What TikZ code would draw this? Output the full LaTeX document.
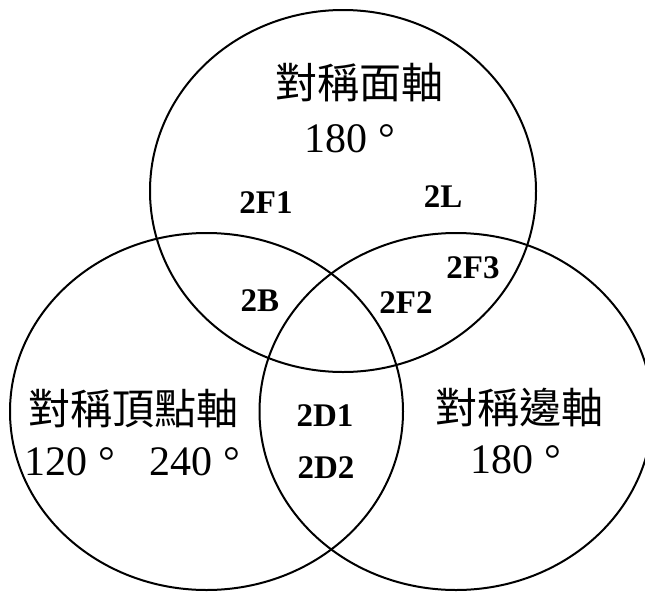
\documentclass[tikz,border=0pt]{standalone}
\usepackage{fontspec}
\setmainfont{Liberation Serif}
\newfontfamily\cjk{Noto Sans CJK TC}
\usetikzlibrary{shapes.geometric}
\tikzset{
  setring/.style={ellipse, draw, line width=2pt, inner sep=0pt, fill=none},
  cjklabel/.style={inner sep=0pt, font=\cjk\fontsize{42}{48}\selectfont},
  numlabel/.style={inner sep=0pt, font=\fontsize{42}{48}\selectfont},
  regionlabel/.style={inner sep=0pt, font=\bfseries\fontsize{33}{38}\selectfont},
}
\begin{document}
\begin{tikzpicture}[x=1pt,y=-1pt]
\useasboundingbox (0,0) rectangle (645,592);
\clip (0,0) rectangle (645,592);
\node[setring, minimum width=386pt, minimum height=362pt] (face) at (343,191) {};
\node[setring, minimum width=393pt, minimum height=357pt] (vertex) at (206.5,411.5) {};
\node[setring, minimum width=393pt, minimum height=357pt] (edge) at (456,411.5) {};

\node[cjklabel] (faceT) at (359,83) {對稱面軸};
\node[numlabel] (faceA) at (350,139) {180 °};
\node[cjklabel] (vertexT) at (133,409) {對稱頂點軸};
\node[numlabel] (vertexA) at (70,462) {120 °};
\node[numlabel] (vertexB) at (195,462) {240 °};
\node[cjklabel] (edgeT) at (519,408) {對稱邊軸};
\node[numlabel] (edgeA) at (516,460) {180 °};

\node[regionlabel] (F1) at (266,203) {2F1};
\node[regionlabel] (L) at (443,197) {2L};
\node[regionlabel] (F3) at (473,268) {2F3};
\node[regionlabel] (B) at (260,301) {2B};
\node[regionlabel] (F2) at (406,303) {2F2};
\node[regionlabel] (D1) at (325,416) {2D1};
\node[regionlabel] (D2) at (326,468) {2D2};
\end{tikzpicture}
\end{document}
